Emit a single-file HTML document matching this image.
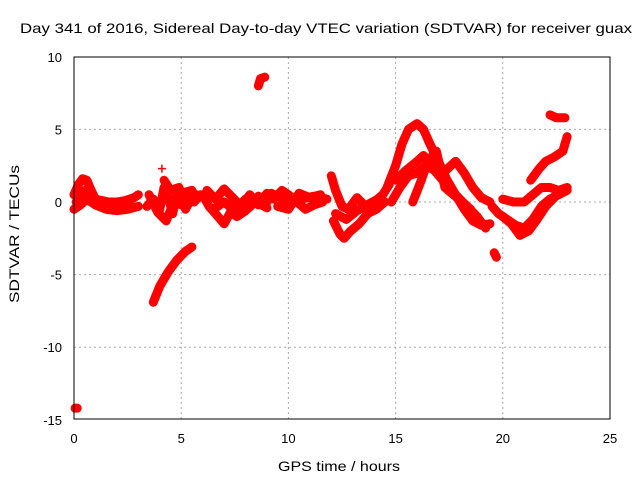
<!DOCTYPE html>
<html><head><meta charset="utf-8"><style>
body{margin:0;background:#fff}
svg{display:block;font-family:"Liberation Sans",sans-serif}
</style></head><body>
<svg id="c" width="640" height="480">
<text x="20" y="33" font-size="14" textLength="612" lengthAdjust="spacingAndGlyphs">Day 341 of 2016, Sidereal Day-to-day VTEC variation (SDTVAR) for receiver guax</text>
<text x="278" y="471" font-size="14" textLength="122" lengthAdjust="spacingAndGlyphs">GPS time / hours</text>
<text transform="translate(19,303) rotate(-90)" font-size="14" textLength="138" lengthAdjust="spacingAndGlyphs">SDTVAR / TECUs</text>
<g id="grid"></g><g id="data"></g><g id="axes"></g>
</svg>
<script>
const xTicks=[0,5,10,15,20,25];
const yTicks=[10,5,0,-5,-10,-15];
const tracks=[
[[0,0.5],[0.2,1.2],[0.4,1.6],[0.6,1.5],[0.8,0.8],[1.0,0.2],[1.3,0.1],[1.6,0],[2.0,0],[2.4,0.1],[2.8,0.3],[3.0,0.5]],
[[0,-0.5],[0.3,-0.2],[0.6,0.2],[1,-0.2],[1.5,-0.5],[2,-0.6],[2.5,-0.5],[3,-0.3]],
[[0.1,0],[0.5,0.8],[1,0],[1.5,-0.2],[2,-0.3],[2.6,-0.1]],
[[3.4,-0.3],[3.7,0.2],[4.0,-0.5],[4.2,1.0],[4.4,0.3],[4.6,-0.8],[4.8,0.5],[5.0,-0.2],[5.3,0.3],[5.6,0],[5.9,0.5]],
[[3.5,0.5],[3.9,-0.7],[4.3,-1.3],[4.6,-0.2],[5,0.6],[5.5,0.8]],
[[4.2,1.5],[4.5,0.8],[4.9,1.0],[5.2,-0.5],[5.6,0.6]],
[[6,0.5],[6.3,-0.3],[6.6,-0.8],[7,-1.5],[7.3,-0.7],[7.6,-1.0],[8,-0.6],[8.3,-0.2],[8.6,0.4],[9,0]],
[[6.2,0.8],[6.6,0.2],[7,0.9],[7.4,0.3],[7.8,-0.3],[8.2,0.5],[8.6,-0.2],[9,0.6]],
[[6.5,-0.5],[7,0],[7.5,-0.6],[8,0.2],[8.5,0],[9,-0.4]],
[[9.3,0.2],[9.7,0.8],[10,0.5],[10.4,0],[10.8,-0.5],[11.2,-0.2],[11.6,0]],
[[9.5,-0.3],[10,-0.5],[10.5,0.6],[11,0.3],[11.5,0.5]],
[[9.2,0.6],[10,0],[10.6,0.2],[11.2,0.4],[11.8,0.2]],
[[12,1.8],[12.2,0.8],[12.5,-0.3],[12.8,-0.5],[13.2,0.3],[13.6,-0.3],[14,0],[14.4,0.5],[14.7,1.2]],
[[12.1,-1.3],[12.4,-2.2],[12.6,-2.5],[12.9,-2],[13.3,-1.5],[13.7,-0.8],[14.1,-0.5],[14.5,0]],
[[12.2,-0.8],[12.7,-1.2],[13.2,-0.6],[13.8,-0.1],[14.3,0.3]],
[[14.6,1],[15,2.5],[15.3,4],[15.6,5],[16,5.4],[16.3,5],[16.6,4],[17,2.8],[17.4,1.5],[17.8,0.5],[18.2,-0.5],[18.6,-1.3],[19,-1.6],[19.4,-1.5]],
[[14.8,0],[15.2,1],[15.6,1.8],[16,2],[16.4,2.5],[16.8,2.2],[17.2,1.5],[17.6,0.8],[18,0.2],[18.4,-0.4],[18.8,-1],[19.2,-1.8]],
[[15,1.5],[15.5,2.2],[16,2.8],[16.3,3.2],[16.7,2.5],[17.1,1.8],[17.5,2.4],[17.8,2.8],[18.2,2],[18.6,1],[19,0.3],[19.4,0]],
[[15.8,0],[16.2,1.5],[16.5,2.8],[16.9,3.5],[17.3,1.0],[17.7,0.5],[18.1,0],[18.5,-0.5]],
[[19.5,-0.3],[19.8,-0.8],[20.2,-1.2],[20.6,-1.6],[21,-1.8],[21.4,-1.2],[21.8,-0.3],[22.2,0.2],[22.6,0.5],[23,0.8]],
[[20,0.2],[20.5,0],[21,0],[21.4,0.5],[21.8,1],[22.2,1.0],[22.6,0.8],[23,1.0]],
[[20,-1],[20.4,-1.5],[20.8,-2.3],[21.2,-2.0],[21.6,-1.2],[22,-0.3],[22.4,0.3]],
[[21.3,1.5],[21.7,2.3],[22,2.8],[22.4,3.1],[22.8,3.5],[23,4.5]],
[[22.2,6],[22.5,5.8],[22.9,5.8]],
[[8.6,8],[8.7,8.5],[8.9,8.6]],
[[3.7,-6.9],[4,-5.8],[4.4,-4.8],[4.8,-4],[5.2,-3.4],[5.5,-3.1]],
[[19.6,-3.5],[19.7,-3.8]],
[[0.05,-14.2],[0.15,-14.2]],
[[4.1,2.3]]
];
const X=v=>74+v*(536/25), Y=v=>202-v*(72.6/5);
const NS='http://www.w3.org/2000/svg';
function mk(t,a,p){const e=document.createElementNS(NS,t);for(const k in a)e.setAttribute(k,a[k]);p.appendChild(e);return e;}
const grid=document.getElementById('grid'),axes=document.getElementById('axes'),data=document.getElementById('data');
xTicks.forEach(t=>{
 if(t>0&&t<25){const l=mk('line',{x1:X(t),x2:X(t),y1:57,y2:419,stroke:'#aaa','stroke-dasharray':'2,3'},grid);
 
 }
 const tx=mk('text',{x:X(t),y:443,'font-size':13,'text-anchor':'middle'},axes);tx.textContent=t;
 
 
});
yTicks.forEach(t=>{
 if(t>-15&&t<10){const l=mk('line',{x1:74,x2:610,y1:Y(t),y2:Y(t),stroke:'#aaa','stroke-dasharray':'2,3'},grid);
 
 }
 const tx=mk('text',{x:62,y:Y(t)+5,'font-size':13,'text-anchor':'end'},axes);tx.textContent=t;
 
 
});
const fr=mk('rect',{x:74,y:57,width:536,height:362,fill:'none',stroke:'#000'},axes);


tracks.forEach(tr=>{
 const pl=mk('polyline',{points:tr.map(p=>X(p[0])+','+Y(p[1])).join(' '),fill:'none',stroke:'#f00','stroke-width':9,'stroke-linejoin':'round','stroke-linecap':'round'},data);
 
 
 tr.forEach(p=>{const x=X(p[0]),y=Y(p[1]);
  const m=mk('path',{d:`M${x-4},${y}h8M${x},${y-4}v8`,stroke:'#f00','stroke-width':1.5},data);
  
  
 });
});
</script>
</body></html>
